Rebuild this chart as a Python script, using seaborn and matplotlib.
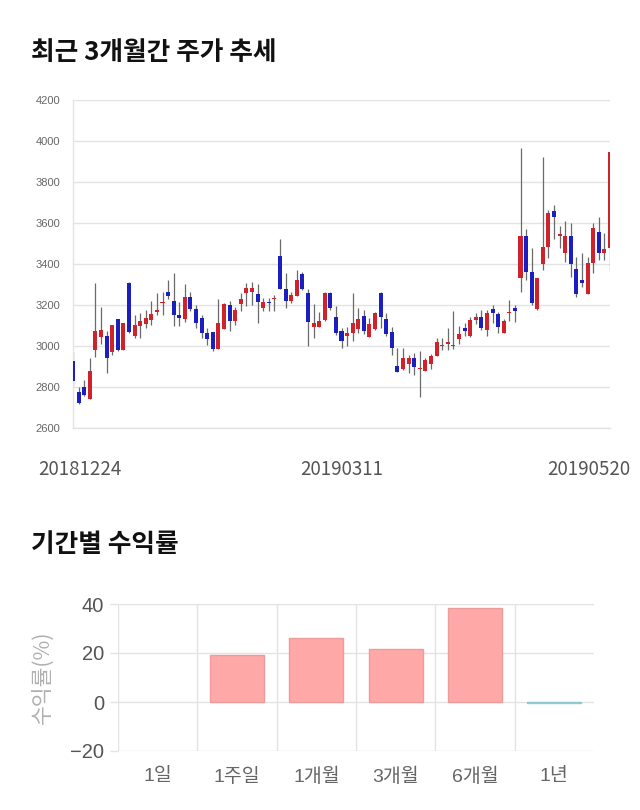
import numpy as np
import pandas as pd
import matplotlib
matplotlib.use('Agg')
import matplotlib.pyplot as plt
import matplotlib.transforms as mtransforms
import seaborn as sns

# ---------------- data ----------------
date_labels = ['20181224', '20190311', '20190520']
date_label_idx = [0, 48, 96]

opens = [2927, 2776, 2802, 2740, 2980, 3045, 3050, 2969, 3132, 2980,
         3307, 3050, 3099, 3107, 3128, 3168, 3208, 3263, 3221, 3150,
         3130, 3241, 3180, 3135, 3062, 3067, 2985, 3081, 3200, 3122,
         3207, 3257, 3262, 3252, 3187, 3216, 3230, 3439, 3276, 3221,
         3246, 3351, 3257, 3091, 3091, 3127, 3257, 3141, 3071, 3050,
         3063, 3083, 3147, 3042, 3083, 3257, 3131, 3067, 2903, 2886,
         2911, 2940, 2886, 2880, 2911, 2952, 3000, 3008, 3000, 3034,
         3086, 3050, 3127, 3140, 3078, 3180, 3154, 3062, 3163, 3184,
         3330, 3537, 3360, 3180, 3400, 3483, 3658, 3538, 3454, 3538,
         3376, 3322, 3254, 3407, 3558, 3455, 3476]
closes = [2829, 2720, 2761, 2878, 3073, 3078, 2940, 3102, 2980, 3110,
          3070, 3102, 3124, 3137, 3156, 3174, 3213, 3245, 3150, 3138,
          3241, 3180, 3110, 3062, 3033, 2985, 3110, 3207, 3122, 3176,
          3228, 3281, 3281, 3216, 3215, 3208, 3233, 3276, 3221, 3249,
          3322, 3278, 3115, 3110, 3122, 3257, 3185, 3063, 3023, 3063,
          3112, 3131, 3071, 3109, 3160, 3141, 3059, 2989, 2875, 2940,
          2940, 2896, 2889, 2932, 2952, 3021, 3005, 3021, 3005, 3057,
          3073, 3127, 3140, 3089, 3159, 3162, 3094, 3122, 3167, 3172,
          3537, 3360, 3208, 3330, 3483, 3651, 3630, 3545, 3538, 3400,
          3254, 3309, 3403, 3577, 3452, 3472, 3946]
highs = [2969, 2802, 2834, 2940, 3306, 3192, 3075, 3102, 3132, 3110,
         3310, 3151, 3160, 3175, 3220, 3257, 3264, 3321, 3354, 3213,
         3300, 3264, 3200, 3150, 3086, 3070, 3230, 3212, 3221, 3192,
         3257, 3305, 3310, 3300, 3233, 3233, 3249, 3520, 3355, 3265,
         3371, 3360, 3278, 3205, 3165, 3265, 3262, 3193, 3090, 3092,
         3260, 3185, 3176, 3136, 3168, 3262, 3160, 3095, 2989, 2989,
         2957, 2965, 2975, 2940, 2960, 3040, 3040, 3086, 3172, 3098,
         3110, 3143, 3160, 3176, 3176, 3200, 3167, 3130, 3224, 3200,
         3964, 3570, 3477, 3330, 3924, 3664, 3690, 3587, 3610, 3600,
         3436, 3452, 3436, 3600, 3628, 3550, 3946]
lows = [2802, 2717, 2756, 2740, 2948, 3008, 2870, 2956, 2975, 2980,
        3065, 3037, 3040, 3090, 3100, 3150, 3150, 3228, 3097, 3097,
        3115, 3170, 3090, 3040, 3007, 2975, 2985, 3081, 3075, 3102,
        3170, 3193, 3200, 3111, 3170, 3170, 3170, 3276, 3185, 3210,
        3243, 3275, 2998, 3040, 3091, 3124, 3175, 3055, 2990, 3000,
        3023, 3063, 3059, 3042, 3080, 3087, 3047, 2957, 2875, 2883,
        2870, 2860, 2750, 2880, 2888, 2952, 2980, 2980, 2985, 3011,
        3050, 3045, 3105, 3078, 3050, 3111, 3062, 3062, 3120, 3115,
        3265, 3322, 3200, 3175, 3370, 3427, 3521, 3477, 3412, 3338,
        3238, 3290, 3254, 3355, 3420, 3420, 3366]

periods = ['1일', '1주일', '1개월', '3개월', '6개월', '1년']
returns = [0.0, 19.0, 26.1, 21.8, 38.4, -0.4]

# ---------------- style ----------------
sns.set_theme(style='white')
plt.rcParams['font.family'] = ['Noto Sans CJK KR', 'DejaVu Sans']

W, H = 640, 810
fig = plt.figure(figsize=(W / 100, H / 100), dpi=100)
fig.patch.set_facecolor('white')


def ax_rect(left, top, right, bottom):
    return [left / W, 1 - bottom / H, (right - left) / W, (bottom - top) / H]


GRID = '#e3e3e3'
UP = '#d0222a'
DOWN = '#1b1fbf'

# ---------------- titles ----------------
fig.text(31 / W, 1 - 52 / H, '최근 3개월간 주가 추세', fontsize=18.5, fontweight='bold',
         color='#111111', va='center', ha='left')
fig.text(31 / W, 1 - 545 / H, '기간별 수익률', fontsize=18.5, fontweight='bold',
         color='#111111', va='center', ha='left')

# ---------------- candlestick chart ----------------
ax1 = fig.add_axes(ax_rect(73, 100, 610, 428))
cdf = pd.DataFrame({'open': opens, 'close': closes, 'high': highs, 'low': lows})
cdf['idx'] = np.arange(len(cdf))
cdf['up'] = cdf['close'] >= cdf['open']

ax1.vlines(cdf['idx'], cdf['low'], cdf['high'], color='#6a6a6a', linewidth=0.9, zorder=2)
body_bottom = np.minimum(cdf['open'], cdf['close'])
body_h = np.maximum(np.abs(cdf['close'] - cdf['open']), 5)
ax1.bar(cdf['idx'], body_h, bottom=body_bottom, width=0.72,
        color=np.where(cdf['up'], UP, DOWN), edgecolor='none', zorder=3)

ax1.set_xlim(0, len(cdf) - 1)
ax1.set_ylim(2600, 4200)
ax1.set_yticks(np.arange(2600, 4201, 200))
ax1.yaxis.grid(True, color=GRID, linewidth=1)
ax1.xaxis.grid(False)
for s in ['top', 'right']:
    ax1.spines[s].set_visible(False)
for s in ['left', 'bottom']:
    ax1.spines[s].set_color(GRID)
    ax1.spines[s].set_linewidth(1)
ax1.tick_params(axis='y', length=0, pad=9, labelsize=8, labelcolor='#666666')
for lab in ax1.get_yticklabels():
    lab.set_fontfamily(['Liberation Sans', 'DejaVu Sans'])
ax1.set_xticks(date_label_idx)
ax1.set_xticklabels(date_labels)
ax1.tick_params(axis='x', length=0, pad=22, labelsize=13.5, labelcolor='#555555')
offsets = [7, 0, -21]
for lab, off in zip(ax1.get_xticklabels(), offsets):
    lab.set_transform(lab.get_transform() +
                      mtransforms.ScaledTranslation(off / 100, 0, fig.dpi_scale_trans))

# ---------------- returns bar chart ----------------
ax2 = fig.add_axes(ax_rect(118, 604, 594, 751))
rdf = pd.DataFrame({'period': periods, 'ret': returns})
bar_colors = ['#ffa8a8' if v >= 0 else '#a6dbe3' for v in returns]
edge_colors = ['#eb9c9c' if v >= 0 else '#8fcad3' for v in returns]
sns.barplot(data=rdf, x='period', y='ret', hue='period', palette=bar_colors,
            saturation=1, legend=False, width=0.68, ax=ax2, zorder=3)
for p, ec, v in zip(ax2.patches, edge_colors, returns):
    p.set_edgecolor(ec)
    p.set_linewidth(1 if v != 0 else 0)

ax2.set_xlim(-0.5, len(periods) - 0.5)
ax2.set_ylim(-20, 40)
ax2.set_yticks([-20, 0, 20, 40])
ax2.yaxis.grid(True, color=GRID, linewidth=1, zorder=0)
ax2.set_xticks(np.arange(-0.5, len(periods) - 0.5, 1), minor=True)
ax2.xaxis.grid(True, which='minor', color=GRID, linewidth=1, zorder=0)
ax2.xaxis.grid(False, which='major')
for s in ['top', 'right', 'bottom', 'left']:
    ax2.spines[s].set_visible(False)
ax2.tick_params(axis='x', which='major', length=0, pad=12, labelsize=14, labelcolor='#666666')
ax2.tick_params(axis='x', which='minor', length=8, width=1, color=GRID)
ax2.tick_params(axis='y', length=6, width=1, color=GRID, pad=4, labelsize=14.5,
                labelcolor='#555555', left=True)
for lab in ax2.get_yticklabels() + ax2.get_xticklabels():
    lab.set_fontfamily(['Liberation Sans', 'Noto Sans CJK KR'])
ax2.set_xlabel('')
ax2.set_ylabel('수익률(%)', fontsize=15.5, color='#b0b0b0', labelpad=12)

fig.savefig('out.png', dpi=100, facecolor='white')
